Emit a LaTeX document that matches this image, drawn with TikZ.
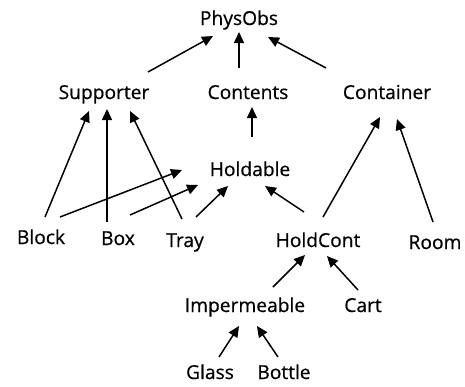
\documentclass[tikz,border=0pt]{standalone}
\usepackage{fontspec}
\setmainfont{Open Sans}
\newfontfamily\classfont{Open Sans}[FakeBold=0.6]
\usetikzlibrary{arrows.meta}
\begin{document}
\begin{tikzpicture}[x=1pt,y=-1pt,
  lbl/.style={anchor=base,inner sep=0pt,font=\classfont\fontsize{19.2}{22}\selectfont},
  isa/.style={-{Triangle[length=11pt,width=10pt]},line width=1.5pt}]
\useasboundingbox (0,0) rectangle (465,386);
% class names, placed on their baselines
\node[lbl] (physobs)   at (239,25)  {PhysObs};
\node[lbl] (supporter) at (104,99)  {Supporter};
\node[lbl] (contents)  at (248,99)  {Contents};
\node[lbl] (container) at (387,99)  {Container};
\node[lbl] (holdable)  at (250,176) {Holdable};
\node[lbl] (block)     at (41,244)  {Block};
\node[lbl] (box)       at (118,245) {Box};
\node[lbl] (tray)      at (185,247) {Tray};
\node[lbl] (holdcont)  at (318,247) {HoldCont};
\node[lbl] (room)      at (435,249) {Room};
\node[lbl] (imperm)    at (245,312) {Impermeable};
\node[lbl] (cart)      at (363,312) {Cart};
\node[lbl] (glass)     at (210,379) {Glass};
\node[lbl] (bottle)    at (284,379) {Bottle};
% is-a links, each from the subclass up to its superclass
\draw[isa] ([shift={(44,-27)}]supporter.base) -- ([shift={(-26,11)}]physobs.base);
\draw[isa] ([shift={(-9,-31)}]contents.base)  -- ([shift={(0,7)}]physobs.base);
\draw[isa] ([shift={(-61,-31)}]container.base) -- ([shift={(29,12)}]physobs.base);
\draw[isa] ([shift={(2,-39)}]holdable.base)   -- ([shift={(4,8)}]contents.base);
\draw[isa] ([shift={(4,-27)}]block.base)      -- ([shift={(-15,12)}]supporter.base);
\draw[isa] ([shift={(-11,-23)}]box.base)      -- ([shift={(3,10)}]supporter.base);
\draw[isa] ([shift={(-3,-28)}]tray.base)      -- ([shift={(26,12)}]supporter.base);
\draw[isa] ([shift={(19,-27)}]block.base)     -- ([shift={(-68,-6)}]holdable.base);
\draw[isa] ([shift={(12,-30)}]box.base)       -- ([shift={(-52,9)}]holdable.base);
\draw[isa] ([shift={(11,-30)}]tray.base)      -- ([shift={(-22,10)}]holdable.base);
\draw[isa] ([shift={(-14,-35)}]holdcont.base) -- ([shift={(15,10)}]holdable.base);
\draw[isa] ([shift={(5,-30)}]holdcont.base)   -- ([shift={(-7,18)}]container.base);
\draw[isa] ([shift={(-2,-27)}]room.base)      -- ([shift={(10,20)}]container.base);
\draw[isa] ([shift={(28,-25)}]imperm.base)    -- ([shift={(-13,8)}]holdcont.base);
\draw[isa] ([shift={(-5,-22)}]cart.base)      -- ([shift={(9,9)}]holdcont.base);
\draw[isa] ([shift={(9,-22)}]glass.base)      -- ([shift={(-6,14)}]imperm.base);
\draw[isa] ([shift={(-6,-22)}]bottle.base)    -- ([shift={(12,14)}]imperm.base);
\end{tikzpicture}
\end{document}
